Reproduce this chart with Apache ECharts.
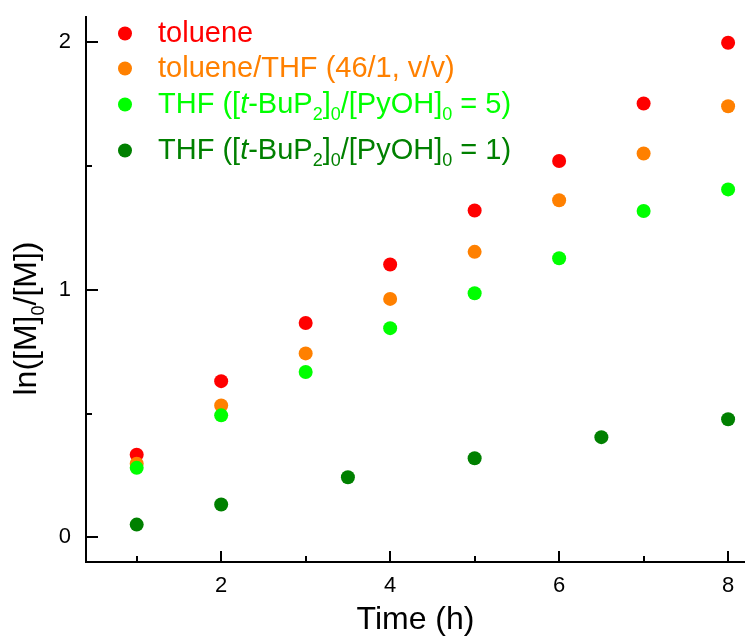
<!DOCTYPE html>
<html>
<head>
<meta charset="utf-8">
<script src="https://cdn.jsdelivr.net/npm/echarts@6/dist/echarts.min.js"></script>
<style>
  html, body { margin: 0; padding: 0; background: #fff; }
  #chart { width: 745px; height: 639px; }
</style>
</head>
<body>
<div id="chart"></div>
<script>
// data
const timeA = [1, 2, 3, 4, 5, 6, 7, 8];
const toluene = [0.333, 0.630, 0.865, 1.101, 1.319, 1.519, 1.751, 1.996];
const tolueneTHF = [0.297, 0.532, 0.742, 0.962, 1.152, 1.360, 1.549, 1.740];
const thfRatio5 = [0.280, 0.492, 0.667, 0.844, 0.985, 1.126, 1.317, 1.404];
const timeB = [1, 2, 3.5, 5, 6.5, 8];
const thfRatio1 = [0.051, 0.132, 0.242, 0.319, 0.404, 0.476];

// ticks
const xMajor = [2, 4, 6, 8];
const xMinor = [1, 3, 5, 7];
const yMajor = [0, 1, 2];
const yMinor = [0.5, 1.5];

const FONT = 'Liberation Sans, Arial, sans-serif';
const colors = ['#ff0000', '#ff8000', '#00ff00', '#008000'];
const names = ['toluene', 'toluene/THF', 'THF5', 'THF1'];
const labels = {
  'toluene': 'toluene',
  'toluene/THF': 'toluene/THF (46/1, v/v)',
  'THF5': 'THF ([{i|t}-BuP{s|2}]{s|0}/[PyOH]{s|0} = 5)',
  'THF1': 'THF ([{i|t}-BuP{s|2}]{s|0}/[PyOH]{s|0} = 1)'
};

// i = italic, s = subscript (pushed down with top padding)
function rich(color, size, subPad) {
  return {
    i: { fontStyle: 'italic', fontSize: size, fontFamily: FONT, color },
    s: { fontSize: 18, fontFamily: FONT, color, padding: [subPad, 0, 0, 0] }
  };
}

// one legend per row so each row can sit where the picture has it
function legendAt(idx, top) {
  return {
    data: [names[idx]],
    left: 118, top, padding: 0,
    icon: 'circle', itemWidth: 14, itemHeight: 14,
    selectedMode: false,
    formatter: n => labels[n],
    textStyle: {
      color: colors[idx], fontSize: 29, fontFamily: FONT,
      padding: [0, 0, 0, 21], rich: rich(colors[idx], 29, 22)
    }
  };
}

function pts(xs, ys) { return xs.map((x, i) => [x, ys[i]]); }

function scatter(idx, data) {
  return {
    type: 'scatter', name: names[idx], data,
    symbol: 'circle', symbolSize: 14,
    itemStyle: { color: colors[idx], opacity: 1 },
    xAxisIndex: 0, yAxisIndex: 0
  };
}

// overlay axis that only adds inside ticks; labels stay "on" but empty,
// otherwise the ticks are dropped
function tickAxis(min, max, pos, values, len) {
  return {
    type: 'value', min, max, position: pos,
    axisLine: { show: true, onZero: false, lineStyle: { color: '#000', width: 2 } },
    axisTick: { show: true, inside: true, length: len, customValues: values, lineStyle: { color: '#000', width: 2 } },
    axisLabel: { show: true, customValues: values, formatter: () => '' },
    splitLine: { show: false }
  };
}

const chart = echarts.init(document.getElementById('chart'), null, { renderer: 'canvas' });
chart.setOption({
  animation: false,
  grid: { left: 86, right: 0, top: 17, bottom: 77, outerBoundsMode: 'none' },
  legend: [legendAt(0, 19), legendAt(1, 54), legendAt(2, 90), legendAt(3, 136)],
  xAxis: [
    {
      type: 'value', min: 0.4, max: 8.2, position: 'bottom',
      name: 'Time (h)', nameLocation: 'middle', nameGap: 42,
      nameTextStyle: { fontSize: 32, fontFamily: FONT, color: '#000' },
      axisLine: { show: true, onZero: false, lineStyle: { color: '#000', width: 2 } },
      axisTick: { show: false },
      axisLabel: { customValues: xMajor, margin: 13, fontSize: 22, fontFamily: FONT, color: '#000' },
      splitLine: { show: false }
    },
    tickAxis(0.4, 8.2, 'bottom', xMajor, 11),
    tickAxis(0.4, 8.2, 'bottom', xMinor, 6)
  ],
  yAxis: [
    {
      type: 'value', min: -0.1, max: 2.1, position: 'left',
      name: 'ln([M]{s|0}/[M])', nameLocation: 'middle', nameGap: 34, nameRotate: 90,
      nameTextStyle: {
        fontSize: 32, fontFamily: FONT, color: '#000',
        padding: [0, 58, 0, 0], rich: rich('#000', 32, 24)
      },
      axisLine: { show: true, onZero: false, lineStyle: { color: '#000', width: 2 } },
      axisTick: { show: false },
      axisLabel: { customValues: yMajor, margin: 15, fontSize: 22, fontFamily: FONT, color: '#000' },
      splitLine: { show: false }
    },
    tickAxis(-0.1, 2.1, 'left', yMajor, 12),
    tickAxis(-0.1, 2.1, 'left', yMinor, 6)
  ],
  series: [
    scatter(0, pts(timeA, toluene)),
    scatter(1, pts(timeA, tolueneTHF)),
    scatter(2, pts(timeA, thfRatio5)),
    scatter(3, pts(timeB, thfRatio1))
  ]
});
</script>
</body>
</html>
